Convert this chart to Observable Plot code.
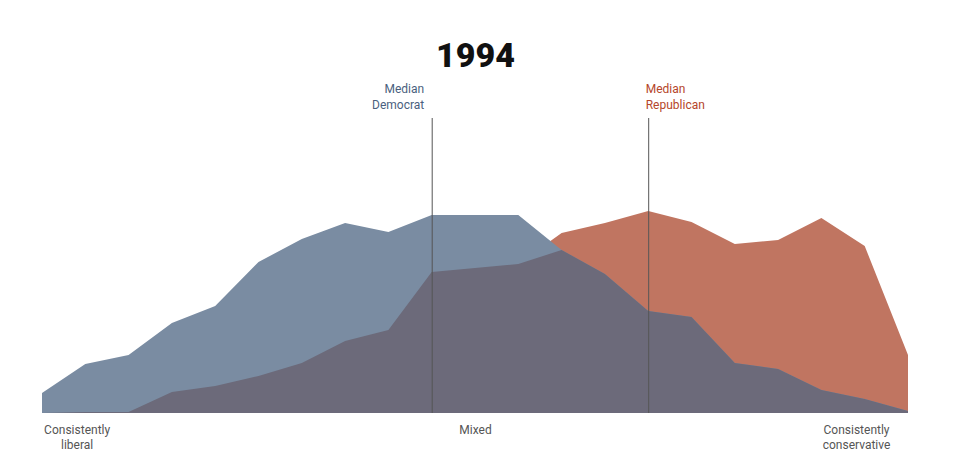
<!DOCTYPE html>
<html><head><meta charset="utf-8">
<script src="https://cdn.jsdelivr.net/npm/d3@7"></script>
<script src="https://cdn.jsdelivr.net/npm/@observablehq/plot@0.6"></script>
<style>body{margin:0;background:#fff;font-family:Roboto,sans-serif}</style>
</head><body>
<div id="chart"></div>
<script>
// ideology scale positions, -10 (liberal) .. 10 (conservative)
const scale = d3.range(-10, 11);
const dem = [20,49,58,90,107,151,174,190,181,198,198,198,163,139,102,96,50,44,23,14,2];
const rep = [0,1,1,21,27,37,50,72,83,141,145,149,180,190,202,191,169,173,195,167,58];
const medians = [{x: -1, label: "Median\nDemocrat", color: "#4a5f7e", anchor: "end", dx: -8}, {x: 4, label: "Median\nRepublican", color: "#b5462a", anchor: "start", dx: -3}];
const axisLabels = [{x: -9.2, label: "Consistently\nliberal"}, {x: 0, label: "Mixed"}, {x: 8.8, label: "Consistently\nconservative"}];

const rows = scale.map((x, i) => ({x, dem: dem[i], rep: rep[i], both: Math.min(dem[i], rep[i])}));

const chart = Plot.plot({
  width: 960, height: 464,
  marginLeft: 42, marginRight: 52, marginTop: 118, marginBottom: 51,
  x: {domain: [-10, 10], axis: null},
  y: {domain: [0, 295], axis: null},
  style: {fontFamily: "Roboto, sans-serif"},
  marks: [
    Plot.areaY(rows, {x: "x", y: "rep", fill: "#c07561"}),
    Plot.areaY(rows, {x: "x", y: "dem", fill: "#7a8ca2"}),
    Plot.areaY(rows, {x: "x", y: "both", fill: "#6c6a7a"}),
    Plot.ruleX(medians, {x: "x", y1: 0, y2: 295, stroke: "#555", strokeWidth: 1}),
    Plot.text(medians.filter(d => d.anchor === "end"), {x: "x", y: 295, dy: -10, dx: -8, text: "label", fill: "color", textAnchor: "end", lineAnchor: "bottom", lineHeight: 1.3, fontSize: 12}),
    Plot.text(medians.filter(d => d.anchor === "start"), {x: "x", y: 295, dy: -10, dx: -3, text: "label", fill: "color", textAnchor: "start", lineAnchor: "bottom", lineHeight: 1.3, fontSize: 12}),
    Plot.text(axisLabels, {x: "x", y: 0, dy: 9, text: "label", fill: "#555", lineAnchor: "top", lineHeight: 1.3, fontSize: 12}),
    Plot.text(["1994"], {frameAnchor: "top", dy: -76, text: d => d, fontSize: 34, fontWeight: 900, fill: "#111"})
  ]
});
document.getElementById("chart").append(chart);
</script>
</body></html>
